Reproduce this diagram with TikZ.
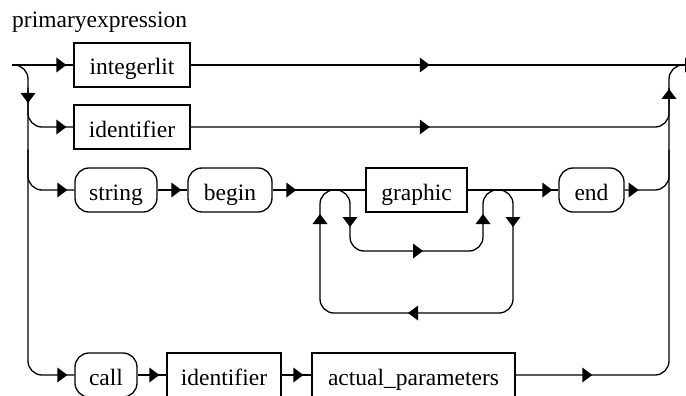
\documentclass[tikz,border=0pt]{standalone}
\usepackage{fontspec}
\setmainfont{Liberation Serif}
\usetikzlibrary{calc}
\begin{document}
\begin{tikzpicture}[x=1pt,y=-1pt,
  txt/.style={font=\fontsize{23.5}{27}\selectfont},
  flow/.style={line width=1.3pt, rounded corners=14pt},
  nonterm/.style={draw, line width=1.3pt, minimum height=44pt, inner sep=0pt,
    text height=22pt, text depth=2pt, txt},
  term/.style={nonterm, rounded corners=14pt},
  tip/.pic={\fill (0,0) -- (-10,-7.5) -- (-10,7.5) -- cycle;}
]
\useasboundingbox (0,0) rectangle (686,396);

% title
\node[txt, anchor=base west, inner sep=0pt] (title) at (12,28) {primaryexpression};

% symbols
\node[nonterm, minimum width=116pt] (intlit) at (132,65) {integerlit};
\node[nonterm, minimum width=116pt] (ident1) at (132,127) {identifier};
\node[term, minimum width=82pt] (str) at (116,190) {string};
\node[term, minimum width=84pt] (beg) at (230,190) {begin};
\node[nonterm, minimum width=101pt] (graph) at (416.5,190) {graphic};
\node[term, minimum width=65pt] (fin) at (591.5,190) {end};
\node[term, minimum width=62pt] (callk) at (106,375) {call};
\node[nonterm, minimum width=114pt] (ident2) at (224,375) {identifier};
\node[nonterm, minimum width=203pt] (actp) at (413.5,375) {actual\_parameters};

% rails
\coordinate (S) at (12,65);
\coordinate (LT) at (28,65);
\coordinate (LB) at (28,375);
\coordinate (RT) at (669,65);
\coordinate (RB) at (669,375);
\coordinate (E) at (686,65);

% loop around graphic
\coordinate (JL) at (335,190);
\coordinate (JR) at (498,190);
\coordinate (OL) at (320,190);
\coordinate (OR) at (513,190);
\coordinate (OBL) at (320,313);
\coordinate (OBR) at (513,313);
\coordinate (IL) at (350,190);
\coordinate (IR) at (483,190);
\coordinate (IBL) at (350,251);
\coordinate (IBR) at (483,251);

% left side
\draw[flow] (S) -- (intlit.west);
\draw[flow] (S) -- (LT) -- (LB) -- (callk.west);
\draw[flow] (LT |- intlit.south) -- (LT |- ident1.west) -- (ident1.west);
\draw[flow] (LT |- ident1.south) -- (LT |- str.west) -- (str.west);

% right side
\draw[flow] (intlit.east) -- (E);
\draw[flow] (actp.east) -- (RB) -- (RT) -- (E);
\draw[flow] (ident1.east) -- (RT |- ident1.east) -- (RT |- intlit.south);
\draw[flow] (fin.east) -- (RT |- fin.east) -- (RT |- ident1.south);

% sequences
\draw[flow] (str.east) -- (beg.west);
\draw[flow] (beg.east) -- (graph.west);
\draw[flow] (graph.east) -- (fin.west);
\draw[flow] (callk.east) -- (ident2.west);
\draw[flow] (ident2.east) -- (actp.west);

% repetition and bypass
\draw[flow] (JR) -- (OR) -- (OBR) -- (OBL) -- (OL) -- (JL);
\draw[flow] (JL) -- (IL) -- (IBL) -- (IBR) -- (IR) -- (JR);

% arrow heads
\pic at ([xshift=-7pt]intlit.west) {tip};
\pic at ([xshift=-7pt]ident1.west) {tip};
\pic at ([xshift=-7pt]str.west) {tip};
\pic at ([xshift=-7pt]callk.west) {tip};
\pic at ([xshift=-6pt]beg.west) {tip};
\pic at ([xshift=-6pt]fin.west) {tip};
\pic at ([xshift=-7pt]ident2.west) {tip};
\pic at ([xshift=-8pt]actp.west) {tip};
\pic at ($(intlit.east)!0.5!(RT)$) {tip};
\pic at ($(ident1.east)!0.5!(RT |- ident1.east)$) {tip};
\pic at ($(beg.east)!0.5!(OL)$) {tip};
\pic at ([xshift=14pt]fin.east) {tip};
\pic at ($(actp.east)!0.5!(RB)$) {tip};
\pic at ($(E)+(9,0)$) {tip};
\pic[rotate=-90] at ($(LT)+(0,38)$) {tip};
\pic[rotate=90] at ($(RT)+(0,24)$) {tip};
\pic[rotate=90] at ($(OL)+(0,24)$) {tip};
\pic[rotate=-90] at ($(IL)+(0,37)$) {tip};
\pic at ($(IBL)!0.5!(IBR)+(6.5,0)$) {tip};
\pic[rotate=90] at ($(IR)+(0,24)$) {tip};
\pic[rotate=-90] at ($(OR)+(0,37)$) {tip};
\pic[rotate=180] at ($(OBL)!0.5!(OBR)+(-8.5,0)$) {tip};
\end{tikzpicture}
\end{document}
